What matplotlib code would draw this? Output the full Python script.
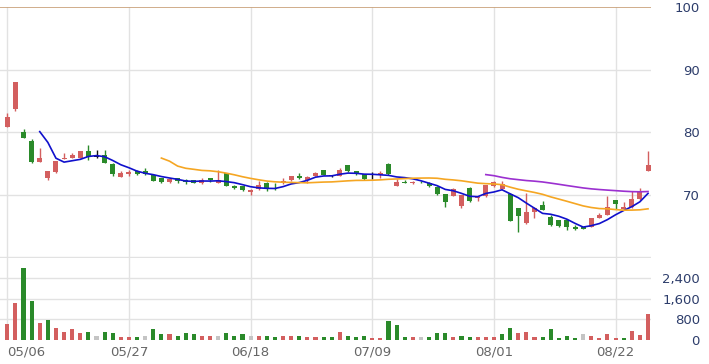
import matplotlib.pyplot as plt
import numpy as np
import pandas as pd

# daily OHLC
opens = [80.9, 83.7, 80.0, 78.7, 75.3, 72.8, 73.7, 75.8, 75.9, 75.9,
         77.0, 76.1, 76.4, 75.0, 72.9, 73.4, 73.9, 73.8, 73.2, 72.7,
         72.1, 72.7, 72.5, 72.4, 72.0, 72.7, 72.0, 73.5, 71.5, 71.4,
         70.5, 71.0, 72.0, 71.15, 71.9, 72.45, 73.0, 72.45, 73.0, 74.0,
         73.1, 73.1, 74.8, 73.8, 73.35, 73.0, 73.3, 74.95, 71.5, 72.1,
         71.95, 72.15, 72.0, 71.3, 70.15, 69.9, 68.3, 71.2, 69.5, 69.9,
         71.4, 71.05, 70.15, 67.9, 65.5, 67.3, 68.4, 66.6, 66.0, 66.0,
         65.0, 64.9, 65.0, 66.3, 66.85, 69.2, 67.8, 68.1, 69.35, 73.9]
highs = [83.1, 88.1, 80.5, 79.0, 77.6, 73.9, 75.5, 76.7, 76.8, 77.0,
         78.0, 77.2, 77.2, 75.1, 73.9, 74.0, 74.0, 74.4, 73.3, 72.8,
         72.7, 72.8, 72.6, 72.5, 72.8, 72.8, 74.0, 73.6, 71.6, 71.5,
         71.0, 72.3, 72.1, 71.9, 72.7, 73.1, 73.6, 73.0, 73.7, 74.1,
         73.3, 74.4, 74.9, 73.9, 73.4, 73.7, 73.8, 75.2, 72.65, 72.4,
         72.3, 72.3, 72.1, 71.4, 70.2, 71.2, 70.1, 71.3, 69.9, 71.7,
         72.2, 72.3, 70.3, 68.0, 70.3, 68.1, 69.1, 66.8, 66.0, 66.0,
         65.2, 65.0, 66.4, 67.2, 69.9, 69.3, 68.9, 70.7, 71.2, 77.1]
lows = [80.9, 83.5, 79.1, 75.1, 75.3, 72.4, 73.6, 75.8, 75.9, 75.9,
        75.6, 76.0, 75.1, 73.1, 72.9, 73.1, 73.3, 73.3, 72.2, 72.0,
        72.0, 71.9, 71.8, 71.9, 71.8, 72.1, 72.0, 71.4, 71.0, 70.6,
        70.1, 70.9, 70.7, 70.9, 71.8, 72.3, 72.6, 72.0, 73.0, 73.2,
        72.9, 73.0, 73.7, 73.3, 72.5, 72.55, 72.7, 73.3, 71.5, 72.0,
        71.8, 71.9, 71.3, 70.1, 68.1, 69.9, 68.0, 69.0, 69.1, 69.8,
        71.3, 71.0, 65.9, 64.1, 65.4, 66.4, 67.6, 65.1, 65.0, 64.5,
        64.5, 64.6, 64.9, 66.3, 66.8, 67.8, 67.8, 68.0, 69.3, 73.8]
closes = [82.4, 88.0, 79.1, 75.3, 75.9, 73.8, 75.4, 76.0, 76.4, 77.0,
          76.1, 76.1, 75.1, 73.4, 73.6, 73.7, 73.4, 73.4, 72.3, 72.1,
          72.55, 72.3, 72.1, 72.0, 72.4, 72.5, 72.5, 71.5, 71.1, 70.85,
          70.85, 71.6, 71.1, 71.0, 72.3, 73.0, 72.7, 72.9, 73.5, 73.25,
          73.1, 74.0, 73.8, 73.35, 72.55, 73.0, 73.6, 73.35, 72.1, 72.0,
          72.05, 72.05, 71.4, 70.15, 69.0, 70.95, 70.0, 69.1, 69.8, 71.6,
          72.1, 71.75, 65.9, 66.7, 67.3, 68.0, 67.65, 65.2, 65.1, 64.95,
          64.7, 64.7, 66.3, 66.8, 68.1, 68.55, 68.1, 69.35, 70.7, 74.8]
volumes = [590, 1430, 2790, 1520, 660, 750, 460, 310, 400, 260,
           310, 155, 310, 260, 115, 115, 115, 155, 400, 205,
           205, 155, 260, 205, 155, 155, 155, 260, 155, 205,
           155, 155, 155, 105, 155, 155, 155, 105, 105, 105,
           105, 310, 155, 105, 155, 50, 50, 710, 555, 105,
           105, 105, 105, 260, 260, 105, 155, 105, 105, 105,
           105, 205, 450, 260, 310, 105, 105, 400, 50, 155,
           50, 205, 155, 50, 230, 50, 50, 320, 165, 1010]
prev_close = 80.9
date_ticks = [0, 15, 30, 45, 60, 75]
date_labels = ['05/06', '05/27', '06/18', '07/09', '08/01', '08/22']

RED = '#d35f5f'
GREEN = '#2a8a2a'
GRID = '#e2e2e2'
LABEL = '#2d3d6b'

o = np.array(opens); h = np.array(highs); l = np.array(lows); c = np.array(closes)
x = np.arange(len(c))

fig = plt.figure(figsize=(7.09, 3.64), dpi=100)
ax = fig.add_axes([0.0, 0.2912, 0.918, 0.6896])
axv = fig.add_axes([0.0, 0.0673, 0.918, 0.2239], sharex=ax)

# candles
cc = np.where(c > o, RED, np.where(c < o, GREEN, '#111111'))
ax.vlines(x, l, h, colors=cc, linewidth=1, zorder=3)
body_h = np.abs(c - o)
body_h = np.where(body_h < 0.08, 0.08, body_h)
ax.bar(x, body_h, bottom=np.minimum(o, c), width=0.62, color=cc, linewidth=0, zorder=4)

# moving averages
s = pd.Series(c)
ax.plot(x, s.rolling(5).mean(), color='#1010cc', lw=1.2, zorder=5)
ax.plot(x, s.rolling(20).mean(), color='#f5a623', lw=1.2, zorder=5)
ax.plot(x, s.rolling(60).mean(), color='#9b30d0', lw=1.2, zorder=5)

ax.set_ylim(60, 100)
ax.set_xlim(-0.9, 79.35)
ax.set_yticks([70, 80, 90, 100])
ax.axhline(100, color='#c8a078', lw=1.2, zorder=2)
for yv in [60.15, 70, 80, 90]:
    ax.axhline(yv, color=GRID, lw=1, zorder=0)

# volume
prev = np.concatenate([[prev_close], c[:-1]])
vc = np.where(c > prev, RED, np.where(c < prev, GREEN, '#c4c4c4'))
axv.bar(x, volumes, width=0.5, color=vc, linewidth=0, zorder=3)
axv.set_ylim(0, 3200)
axv.set_yticks([0, 800, 1600, 2400])
axv.set_yticklabels(['0', '800', '1,600', '2,400'])
for yv in [800, 1600, 2400]:
    axv.axhline(yv, color=GRID, lw=1, zorder=0)

for a in (ax, axv):
    for xv in date_ticks:
        a.axvline(xv, color=GRID, lw=1, zorder=0)
    for sp in a.spines.values():
        sp.set_visible(False)
    a.yaxis.tick_right()
    a.tick_params(axis='y', which='both', length=0, pad=35.3, labelsize=9.5, labelcolor=LABEL)
    for t in a.get_yticklabels():
        t.set_horizontalalignment('right')

ax.tick_params(axis='x', length=0, labelbottom=False)
axv.set_xticks(date_ticks)
axv.set_xticklabels(date_labels)
axv.tick_params(axis='x', length=0, pad=4, labelsize=9.5, labelcolor='#666666')
axv.get_xticklabels()[0].set_horizontalalignment('left')

fig.savefig('out.png', dpi=100)
